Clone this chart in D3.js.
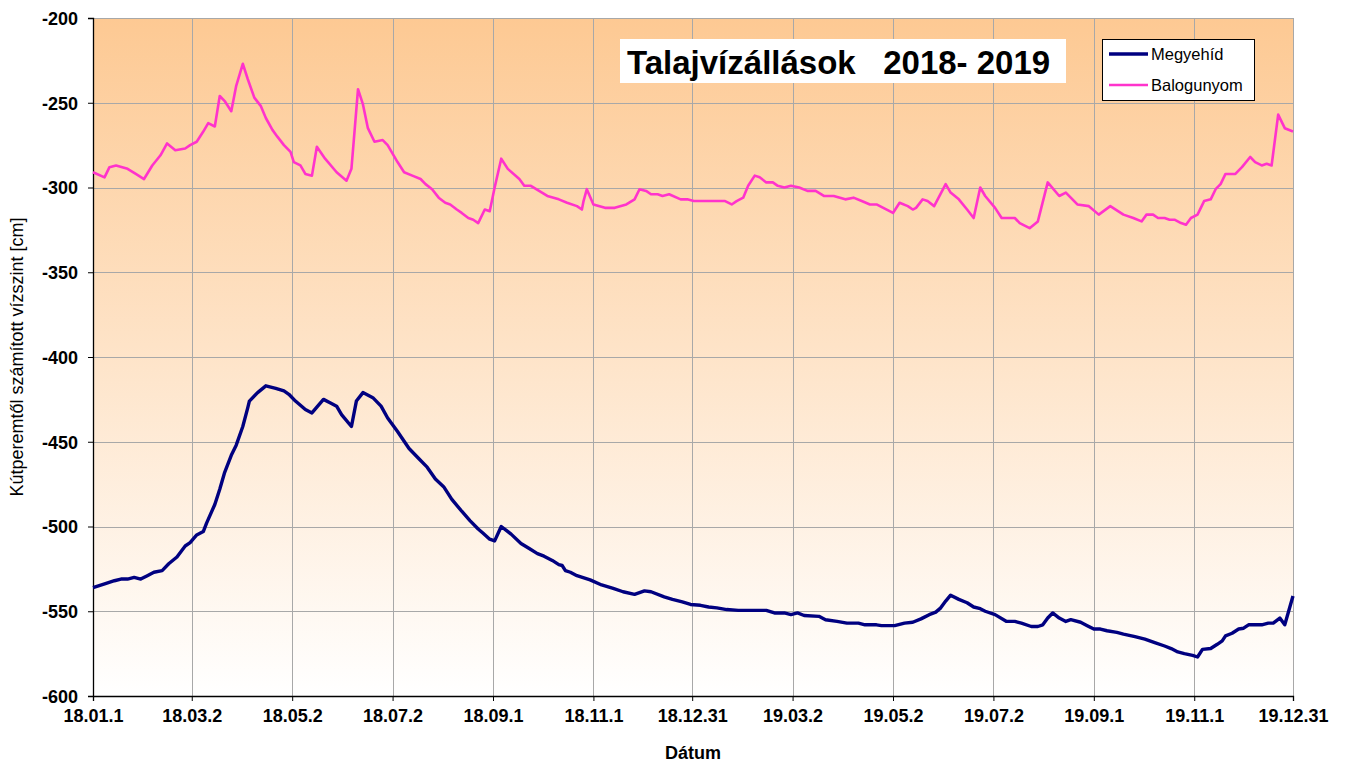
<!DOCTYPE html>
<html>
<head>
<meta charset="utf-8">
<script src="https://cdn.jsdelivr.net/npm/d3@7"></script>
<style>
  body { margin: 0; background: #fff; }
  svg { display: block; font-family: Arial, "Liberation Sans", sans-serif; }
</style>
</head>
<body>
<div id="chart"></div>
<script>
// data: days since 2018-01-01 and water level in cm
var megyehidNap = [0, 8, 13, 17, 21, 25, 29, 33, 37, 42, 46, 51, 56, 59, 63, 67, 69, 74, 77, 80, 84, 87, 91, 94, 95, 100, 105, 111, 116, 119, 123, 129, 133, 140, 144, 148, 151, 157, 160, 164, 170, 175, 179, 185, 192, 198, 203, 208, 213, 218, 224, 229, 234, 237, 241, 244, 248, 254, 260, 265, 270, 274, 279, 283, 285, 287, 290, 294, 302, 309, 316, 322, 329, 335, 339, 347, 352, 358, 363, 369, 374, 379, 385, 392, 399, 409, 414, 420, 424, 428, 432, 441, 445, 452, 458, 465, 469, 476, 479, 487, 493, 498, 503, 508, 512, 515, 518, 521, 526, 531, 535, 539, 542, 548, 555, 560, 564, 570, 574, 577, 580, 583, 587, 591, 594, 600, 604, 608, 612, 616, 622, 626, 633, 639, 645, 651, 655, 659, 663, 668, 671, 674, 679, 683, 686, 688, 692, 696, 699, 702, 710, 714, 717, 721, 724, 729];
var megyehidCm = [-536, -533.5, -532, -531, -531, -530, -531, -529, -527, -526, -522, -518, -511.5, -509.5, -505, -503, -498, -487, -478, -468, -458, -452, -441, -430, -426, -421, -417, -418.5, -420, -422, -426, -431, -433, -425, -427, -429, -434, -441, -426, -421, -424, -429, -436, -444, -454, -460, -465, -472, -476.5, -484, -491, -496.5, -501.5, -504, -507.5, -508.5, -500, -504.5, -510, -513, -516, -517.5, -520, -522.5, -523, -526, -527, -529, -531.5, -534.5, -536.5, -538.5, -540, -538, -538.5, -541.5, -543, -544.5, -546, -546.5, -547.5, -548, -549, -549.5, -549.5, -549.5, -551, -551, -552, -551, -552.5, -553, -555, -556, -557, -557, -558, -558, -558.5, -558.5, -557, -556.5, -554.5, -552, -550.5, -548, -544, -540.5, -543, -545, -547.5, -548.5, -550, -552, -556, -556, -557, -559, -559, -558, -554, -551, -554, -556, -555, -556.5, -558.5, -560.5, -560.5, -561.5, -562.5, -563.5, -565, -566.5, -568.5, -570.5, -572, -574, -575, -576, -577, -572.5, -572, -569.5, -567.5, -564.5, -563, -560.5, -560, -558, -558, -557, -557, -554, -558, -541];

var balogunyomNap = [0, 7, 10, 14, 21, 26, 31, 36, 41, 45, 50, 56, 59, 63, 67, 70, 74, 77, 80, 84, 87, 91, 94, 98, 102, 105, 109, 112, 116, 120, 122, 126, 129, 133, 136, 141, 148, 154, 157, 161, 164, 167, 171, 176, 179, 182, 185, 189, 194, 199, 202, 206, 210, 214, 217, 221, 224, 228, 231, 234, 238, 241, 244, 248, 252, 259, 262, 266, 271, 276, 283, 288, 294, 297, 298, 300, 304, 311, 317, 324, 329, 332, 336, 339, 343, 346, 350, 357, 361, 365, 370, 374, 378, 384, 388, 391, 395, 398, 402, 405, 409, 413, 416, 420, 424, 429, 434, 439, 444, 450, 457, 462, 467, 472, 476, 486, 490, 495, 498, 500, 504, 507, 511, 518, 521, 526, 531, 535, 539, 542, 548, 552, 560, 563, 569, 574, 580, 587, 591, 598, 605, 611, 618, 626, 632, 637, 640, 644, 647, 651, 654, 657, 661, 664, 667, 671, 675, 679, 682, 685, 688, 694, 698, 703, 706, 710, 713, 716, 720, 724, 729];
var balogunyomCm = [-291, -294, -288, -287, -289, -292, -295, -287, -281, -274, -278, -277, -275, -273, -267, -262, -264, -246, -249, -255, -240, -227, -236, -247, -252, -259, -266, -270, -275, -279, -285, -287, -292, -293, -276, -283, -291, -296, -289, -242, -251, -265, -273, -272, -275, -280, -285, -291, -293, -295, -298, -301, -306, -309, -310, -313, -315, -318, -319, -321, -313, -314, -300, -283, -289, -295, -299, -299, -302, -305, -307, -309, -311, -313, -308, -301, -310, -312, -312, -310, -307, -301, -302, -304, -304, -305, -304, -307, -307, -308, -308, -308, -308, -308, -310, -308, -306, -299, -293, -294, -297, -297, -299, -300, -299, -300, -302, -302, -305, -305, -307, -306, -308, -310, -310, -315, -309, -311, -313, -312, -307, -308, -311, -298, -303, -307, -313, -318, -300, -305, -312, -318, -318, -321, -324, -320, -297, -305, -303, -310, -311, -316, -311, -316, -318, -320, -316, -316, -318, -318, -319, -319, -321, -322, -318, -316, -308, -307, -301, -298, -292, -292, -288, -282, -285, -287, -286, -287, -257, -265, -267];

var tickDates = ['2018-01-01', '2018-03-02', '2018-05-02', '2018-07-02', '2018-09-01', '2018-11-01', '2018-12-31',
                 '2019-03-02', '2019-05-02', '2019-07-02', '2019-09-01', '2019-11-01', '2019-12-31'];
var tickLabels = ['18.01.1', '18.03.2', '18.05.2', '18.07.2', '18.09.1', '18.11.1', '18.12.31',
                  '19.03.2', '19.05.2', '19.07.2', '19.09.1', '19.11.1', '19.12.31'];
var yTicks = [-200, -250, -300, -350, -400, -450, -500, -550, -600];

var seriesNames = ['Megyehíd', 'Balogunyom'];
var seriesColors = ['#000080', '#ff33cc'];

// layout
var width = 1345
  , height = 764
  , margin = { top: 18, right: 52, bottom: 68, left: 93 }
  , innerW = width - margin.left - margin.right
  , innerH = height - margin.top - margin.bottom
;

var parse = d3.timeParse('%Y-%m-%d');
var start = parse('2018-01-01');

function toPoints(nap, cm) {
  return nap.map(function (d, i) { return { date: d3.timeDay.offset(start, d), value: cm[i] }; });
}

var series = [
  { name: seriesNames[0], color: seriesColors[0], width: 3.4, points: toPoints(megyehidNap, megyehidCm) },
  { name: seriesNames[1], color: seriesColors[1], width: 2.6, points: toPoints(balogunyomNap, balogunyomCm) }
];

var x = d3.scaleTime()
    .domain([start, parse('2019-12-31')])
    .range([0, innerW]);

var y = d3.scaleLinear()
    .domain([-600, -200])
    .range([innerH, 0]);

var svg = d3.select('#chart').append('svg')
    .attr('width', width)
    .attr('height', height);

var defs = svg.append('defs');
var grad = defs.append('linearGradient')
    .attr('id', 'bg')
    .attr('x1', 0).attr('y1', 0).attr('x2', 0).attr('y2', 1);
grad.append('stop').attr('offset', '0%').attr('stop-color', '#fdc993');
grad.append('stop').attr('offset', '100%').attr('stop-color', '#ffffff');

var g = svg.append('g')
    .attr('transform', 'translate(' + margin.left + ',' + margin.top + ')');

g.append('rect')
    .attr('width', innerW)
    .attr('height', innerH)
    .attr('fill', 'url(#bg)');

// grid
var tickDateObjs = tickDates.map(parse);

g.append('g')
    .selectAll('line')
    .data(yTicks)
    .enter().append('line')
    .attr('x1', 0).attr('x2', innerW)
    .attr('y1', function (d) { return Math.round(y(d)) + 0.5; })
    .attr('y2', function (d) { return Math.round(y(d)) + 0.5; })
    .attr('stroke', '#a8a8a8')
    .attr('stroke-width', 1);

g.append('g')
    .selectAll('line')
    .data(tickDateObjs)
    .enter().append('line')
    .attr('y1', 0).attr('y2', innerH)
    .attr('x1', function (d) { return Math.round(x(d)) + 0.5; })
    .attr('x2', function (d) { return Math.round(x(d)) + 0.5; })
    .attr('stroke', '#a8a8a8')
    .attr('stroke-width', 1);

// axes
var yAxis = d3.axisLeft(y)
    .tickValues(yTicks)
    .tickSize(5)
    .tickPadding(10)
    .tickFormat(function (d) { return String(d); });   // plain hyphen, like the original

var xAxis = d3.axisBottom(x)
    .tickValues(tickDateObjs)
    .tickSize(5)
    .tickPadding(4)
    .tickFormat(function (d, i) { return tickLabels[i]; });

var yg = g.append('g').call(yAxis);
var xg = g.append('g').attr('transform', 'translate(0,' + innerH + ')').call(xAxis);

[yg, xg].forEach(function (ax) {
  ax.select('.domain').attr('stroke', '#000').attr('stroke-width', 1.3);
  ax.selectAll('.tick line').attr('stroke', '#000');
  ax.selectAll('.tick text')
      .attr('fill', '#000')
      .style('font-size', '18px')
      .style('font-weight', 'bold')
      .style('font-family', 'Arial, "Liberation Sans", sans-serif');
});
yg.selectAll('.tick text').attr('dy', '0.36em');
xg.selectAll('.tick text').attr('dy', '0.95em');

// lines
var line = d3.line()
    .x(function (d) { return x(d.date); })
    .y(function (d) { return y(d.value); });

g.selectAll('path.series')
    .data(series.slice().reverse())
    .enter().append('path')
    .attr('class', 'series')
    .attr('d', function (d) { return line(d.points); })
    .attr('fill', 'none')
    .attr('stroke', function (d) { return d.color; })
    .attr('stroke-width', function (d) { return d.width; })
    .attr('stroke-linejoin', 'round');

// title box
svg.append('rect')
    .attr('x', 620).attr('y', 39)
    .attr('width', 446).attr('height', 44)
    .attr('fill', '#fff');

svg.append('text')
    .attr('x', 627).attr('y', 74)
    .style('font-size', '33px')
    .style('font-weight', 'bold')
    .style('white-space', 'pre')
    .attr('fill', '#000')
    .text('Talajvízállások   2018- 2019');

// legend
var legend = svg.append('g').attr('transform', 'translate(1102,39)');
legend.append('rect')
    .attr('x', 0.5).attr('y', 0.5)
    .attr('width', 152).attr('height', 61)
    .attr('fill', '#fff')
    .attr('stroke', '#000')
    .attr('stroke-width', 1);

var items = legend.selectAll('g.item')
    .data(series)
    .enter().append('g')
    .attr('class', 'item')
    .attr('transform', function (d, i) { return 'translate(0,' + (15 + i * 31) + ')'; });

items.append('line')
    .attr('x1', 7).attr('x2', 46)
    .attr('stroke', function (d) { return d.color; })
    .attr('stroke-width', function (d) { return d.width; });

items.append('text')
    .attr('x', 49).attr('y', 6)
    .style('font-size', '16.5px')
    .attr('fill', '#000')
    .text(function (d) { return d.name; });

// axis titles
svg.append('text')
    .attr('x', margin.left + innerW / 2)
    .attr('y', 759)
    .attr('text-anchor', 'middle')
    .style('font-size', '18px')
    .style('font-weight', 'bold')
    .text('Dátum');

svg.append('text')
    .attr('transform', 'translate(23,' + (margin.top + innerH / 2) + ') rotate(-90)')
    .attr('text-anchor', 'middle')
    .style('font-size', '18px')
    .style('font-weight', '500')
    .text('Kútperemtől számított vízszint [cm]');
</script>
</body>
</html>
